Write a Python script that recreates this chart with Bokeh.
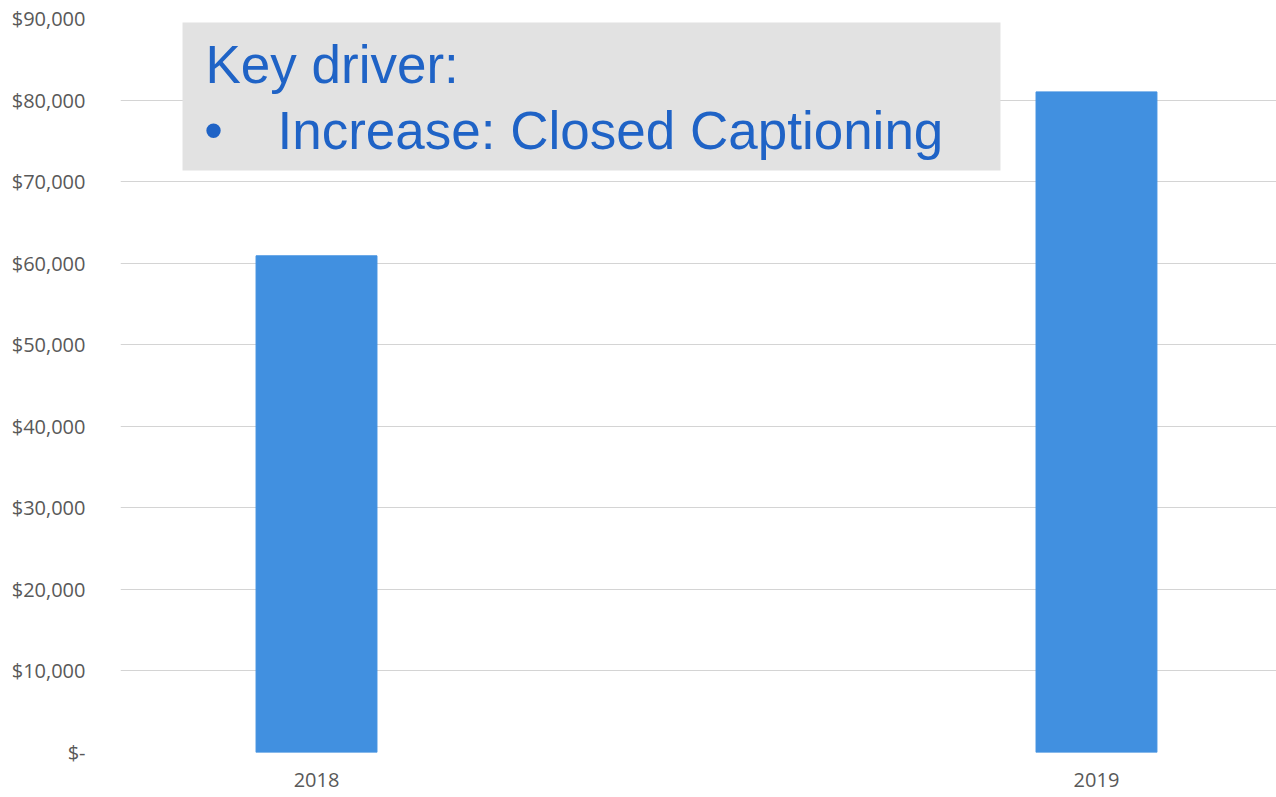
from bokeh.plotting import figure
from bokeh.models import Range1d, FixedTicker, BoxAnnotation, Label, ColumnDataSource
from bokeh.embed import file_html
from bokeh.resources import INLINE

# ---- data ----
years = ["2018", "2019"]
costs = [60900, 81000]
y_ticks = [0, 10000, 20000, 30000, 40000, 50000, 60000, 70000, 80000, 90000]
y_tick_labels = ["$-", "$10,000", "$20,000", "$30,000", "$40,000",
                 "$50,000", "$60,000", "$70,000", "$80,000", "$90,000"]
note_title = "Key driver:"
note_bullet = "\u2022"
note_item = "Increase: Closed Captioning"

xs = list(range(len(years)))
src = ColumnDataSource(dict(x=xs, top=costs))

p = figure(width=1276, height=797, output_backend="svg", toolbar_location=None,
           x_range=Range1d(-0.2513, 1.2308), y_range=Range1d(0, 90000),
           min_border_left=120, min_border_right=0, min_border_top=18,
           min_border_bottom=45)
p.outline_line_color = None
p.background_fill_color = "white"
p.border_fill_color = "white"

p.vbar(x="x", top="top", width=0.155, source=src, color="#4190e0")

# axes
p.yaxis.ticker = FixedTicker(ticks=y_ticks)
p.yaxis.major_label_overrides = {t: l for t, l in zip(y_ticks, y_tick_labels)}
p.xaxis.ticker = FixedTicker(ticks=xs)
p.xaxis.major_label_overrides = {i: y for i, y in zip(xs, years)}
for ax in (p.xaxis[0], p.yaxis[0]):
    ax.axis_line_color = None
    ax.major_tick_line_color = None
    ax.minor_tick_line_color = None
    ax.major_label_text_font = "Open Sans"
    ax.major_label_text_font_size = "20px"
    ax.major_label_text_color = "#595959"
p.yaxis.major_label_standoff = 29
p.xaxis.major_label_standoff = 14

p.xgrid.grid_line_color = None
p.ygrid.grid_line_color = "#d4d4d4"
p.ygrid.grid_line_width = 1
p.ygrid.ticker = FixedTicker(ticks=y_ticks)

# annotation box
box = BoxAnnotation(left=-0.1718, right=0.8769, bottom=71360, top=89510,
                    fill_color="#e2e2e2", fill_alpha=1.0, line_color=None)
p.add_layout(box)

txt_kw = dict(text_font="Liberation Sans", text_font_size="53px",
              text_color="#1f63c6", text_baseline="alphabetic")
p.add_layout(Label(x=-0.1423, y=84400, text=note_title, **txt_kw))
p.add_layout(Label(x=-0.1440, y=76300, text=note_bullet, **txt_kw))
p.add_layout(Label(x=-0.0500, y=76300, text=note_item, **txt_kw))

open("out.html", "w").write(file_html(p, INLINE))
